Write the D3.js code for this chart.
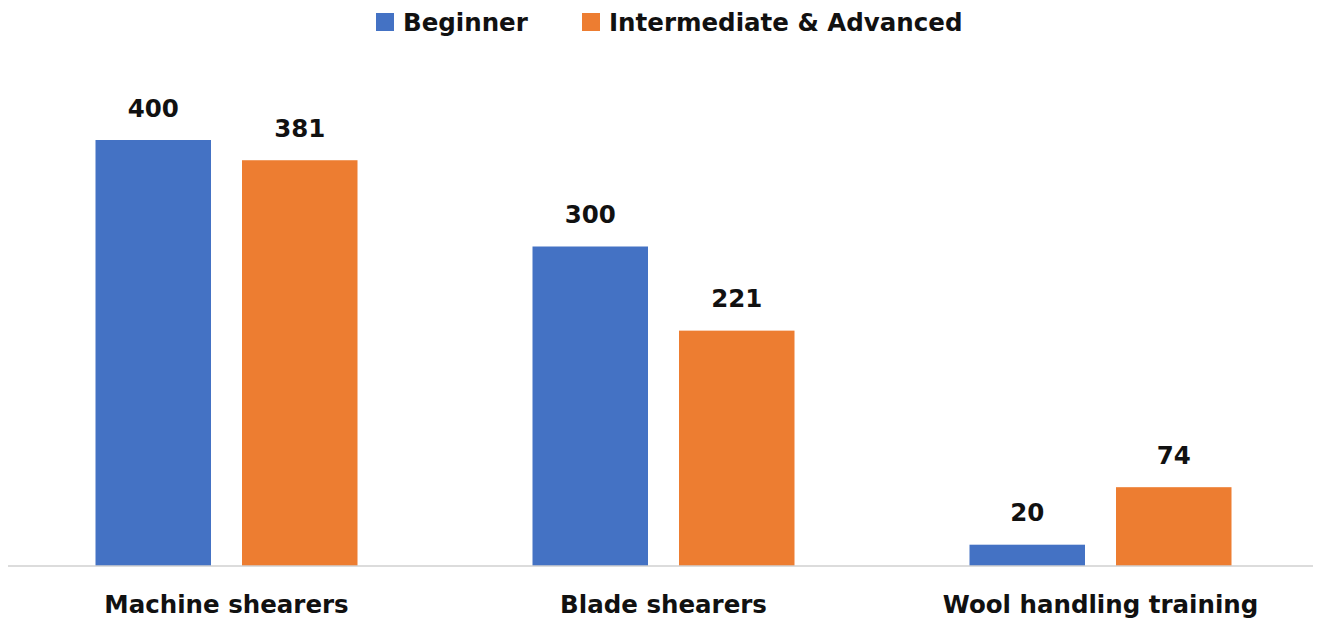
<!DOCTYPE html>
<html><head><meta charset="utf-8">
<script src="https://cdn.jsdelivr.net/npm/d3@7"></script>
<style>body{margin:0;background:#fff}svg{display:block}</style>
</head><body>
<script>
const categories = ["Machine shearers", "Blade shearers", "Wool handling training"];
const seriesNames = ["Beginner", "Intermediate & Advanced"];
const beginner = [400, 300, 20];
const intermediateAdvanced = [381, 221, 74];
const colors = ["#4472C4", "#ED7D31"];

const W = 1319, H = 621;
const font = "'DejaVu Sans', sans-serif";
const fs = 24.5;
const svg = d3.select("body").append("svg").attr("width", W).attr("height", H);

const values = [beginner, intermediateAdvanced];
const data = categories.map((c, i) => ({cat: c, vals: seriesNames.map((s, j) => ({s, j, v: values[j][i]}))}));

const x0 = d3.scaleBand().domain(categories).range([8, 1319]).padding(0);
const x1 = d3.scaleBand().domain(seriesNames).range([87.5, 349.5]).paddingInner(0.2116).paddingOuter(0);
const y = d3.scaleLinear().domain([0, 400]).range([566, 140]);

const g = svg.append("g");
const grp = g.selectAll("g.cat").data(data).join("g").attr("transform", d => `translate(${x0(d.cat)},0)`);
grp.selectAll("rect").data(d => d.vals).join("rect")
  .attr("x", d => x1(d.s)).attr("width", x1.bandwidth())
  .attr("y", d => y(d.v)).attr("height", d => y(0) - y(d.v))
  .attr("fill", d => colors[d.j]);
grp.selectAll("text.val").data(d => d.vals).join("text").attr("class", "val")
  .attr("x", d => x1(d.s) + x1.bandwidth() / 2).attr("y", d => y(d.v) - 23.5)
  .attr("text-anchor", "middle").attr("font-family", font).attr("font-weight", 700)
  .attr("font-size", fs).attr("fill", "#111").text(d => d.v);

// axis
const xAxis = d3.axisBottom(x0).tickSize(0).tickPadding(0);
const ax = svg.append("g").attr("transform", `translate(0,${y(0)})`).call(xAxis);
ax.select(".domain").attr("stroke", "#d0d0d0").attr("stroke-width", 1.5).attr("d", "M8,0H1313");
ax.selectAll(".tick text").attr("font-family", font).attr("font-weight", 700).attr("font-size", fs)
  .attr("fill", "#111").attr("dy", null).attr("y", 47);

// legend
const legendX = [376, 582];
const leg = svg.append("g");
seriesNames.forEach((s, j) => {
  leg.append("rect").attr("x", legendX[j]).attr("y", 13).attr("width", 18).attr("height", 18).attr("fill", colors[j]);
  leg.append("text").attr("x", legendX[j] + 27).attr("y", 31).attr("font-family", font).attr("font-weight", 700)
    .attr("font-size", fs).attr("fill", "#111").text(s);
});
</script>
</body></html>
